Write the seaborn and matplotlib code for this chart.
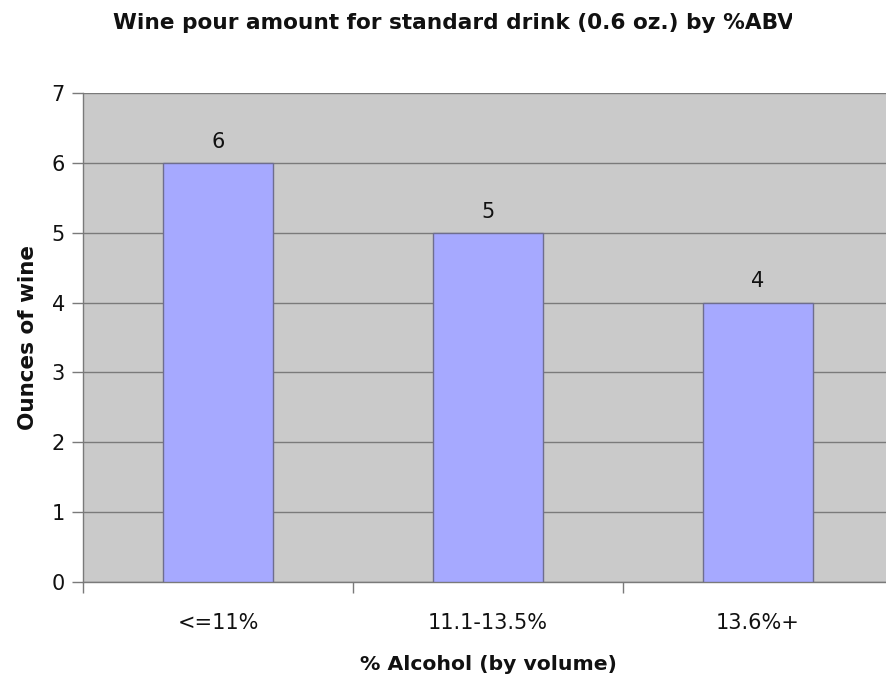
import matplotlib
matplotlib.use("Agg")
import matplotlib.pyplot as plt
from matplotlib.ticker import FixedLocator, NullFormatter
from matplotlib.transforms import Bbox, TransformedBbox
import seaborn as sns
import pandas as pd

categories = ["<=11%", "11.1-13.5%", "13.6%+"]
ounces = [6, 5, 4]
y_ticks = [0, 1, 2, 3, 4, 5, 6, 7]

title = "Wine pour amount for standard drink (0.6 oz.) by %ABV"
x_label = "% Alcohol (by volume)"
y_label = "Ounces of wine"

sns.set_theme(style="white")
plt.rcParams["font.family"] = ["DejaVu Sans"]

df = pd.DataFrame({"abv": categories, "oz": ounces})

fig = plt.figure(figsize=(8.86, 6.75), dpi=100)
ax = fig.add_axes([83 / 886, 1 - 582 / 675, 810 / 886, (582 - 93) / 675])
ax.set_facecolor("#CACACA")

sns.barplot(data=df, x="abv", y="oz", color="#A6A9FF", saturation=1,
            width=0.405, edgecolor="#6E6E8E", linewidth=1.0, ax=ax, zorder=3)

ax.set_xlim(-0.5, len(categories) - 0.5)
ax.set_ylim(0, 7)
ax.set_yticks(y_ticks)
ax.yaxis.grid(True, color="#7A7A7A", linewidth=1.0, zorder=1)
ax.set_axisbelow(True)

for s in ["top", "right"]:
    ax.spines[s].set_visible(False)
for s in ["left", "bottom"]:
    ax.spines[s].set_color("#7A7A7A")
    ax.spines[s].set_linewidth(1.0)

ax.tick_params(axis="y", length=8, width=1, color="#7A7A7A", pad=5,
               labelsize=15, labelcolor="#111111", left=True)
ax.tick_params(axis="x", which="major", length=0, pad=22,
               labelsize=15, labelcolor="#111111")
ax.xaxis.set_minor_locator(FixedLocator([i - 0.5 for i in range(len(categories) + 1)]))
ax.xaxis.set_minor_formatter(NullFormatter())
ax.tick_params(axis="x", which="minor", length=8, width=1, color="#7A7A7A", bottom=True)

for i, v in enumerate(ounces):
    ax.annotate(f"{v}", (i, v), xytext=(0, 8), textcoords="offset points",
                ha="center", va="bottom", fontsize=15, color="#111111")

ax.set_xlabel(x_label, fontsize=14.7, fontweight="bold", labelpad=16, color="#111111")
ax.set_ylabel(y_label, fontsize=15.5, fontweight="bold", labelpad=10, color="#111111")

# title box is narrower than the text, so the last letter is cut off
t = fig.text(113 / 886, 1 - 23 / 675, title, ha="left", va="center",
             fontsize=15.6, fontweight="bold", color="#111111")
t.set_clip_box(TransformedBbox(Bbox([[0, 0], [792 / 886, 1]]), fig.transFigure))
t.set_clip_on(True)

fig.savefig("out.png", dpi=100, facecolor="white")
